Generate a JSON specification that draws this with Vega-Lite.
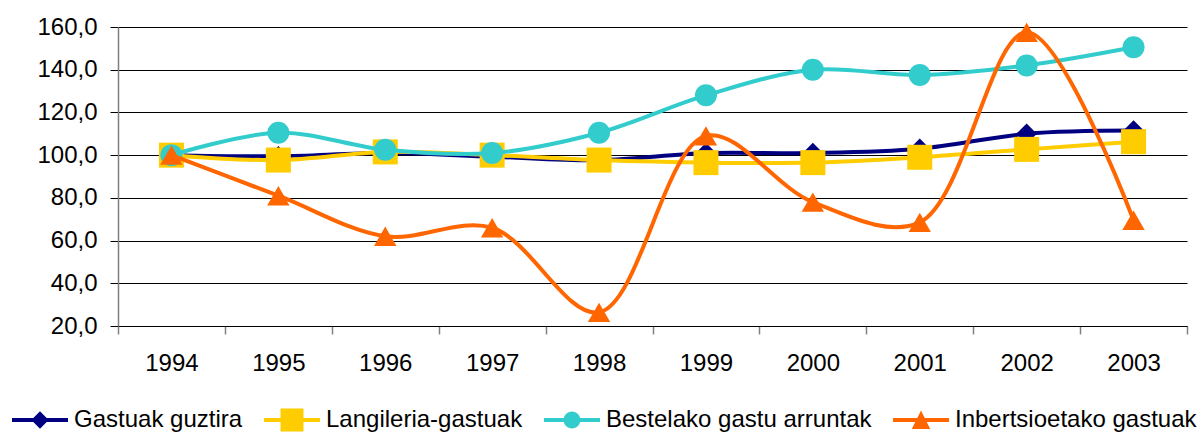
{
  "$schema": "https://vega.github.io/schema/vega-lite/v6.json",
  "width": 1069,
  "height": 299,
  "autosize": {"type": "none"},
  "padding": {"left": 118, "top": 27, "right": 10, "bottom": 106},
  "background": "white",
  "config": {
    "view": {"stroke": null},
    "font": "Liberation Sans",
    "axis": {"labelFont": "Liberation Sans", "labelFontSize": 24, "labelColor": "#000", "title": null}
  },
  "data": {
    "values": [
      {"urtea": "1994", "serie": "Gastuak guztira", "balioa": 100},
      {"urtea": "1995", "serie": "Gastuak guztira", "balioa": 99.5},
      {"urtea": "1996", "serie": "Gastuak guztira", "balioa": 101},
      {"urtea": "1997", "serie": "Gastuak guztira", "balioa": 99.3},
      {"urtea": "1998", "serie": "Gastuak guztira", "balioa": 97.6},
      {"urtea": "1999", "serie": "Gastuak guztira", "balioa": 101},
      {"urtea": "2000", "serie": "Gastuak guztira", "balioa": 101},
      {"urtea": "2001", "serie": "Gastuak guztira", "balioa": 103},
      {"urtea": "2002", "serie": "Gastuak guztira", "balioa": 110},
      {"urtea": "2003", "serie": "Gastuak guztira", "balioa": 111.5},
      {"urtea": "1994", "serie": "Langileria-gastuak", "balioa": 100},
      {"urtea": "1995", "serie": "Langileria-gastuak", "balioa": 97.7},
      {"urtea": "1996", "serie": "Langileria-gastuak", "balioa": 101.5},
      {"urtea": "1997", "serie": "Langileria-gastuak", "balioa": 100},
      {"urtea": "1998", "serie": "Langileria-gastuak", "balioa": 97.7},
      {"urtea": "1999", "serie": "Langileria-gastuak", "balioa": 96.5},
      {"urtea": "2000", "serie": "Langileria-gastuak", "balioa": 96.5},
      {"urtea": "2001", "serie": "Langileria-gastuak", "balioa": 99},
      {"urtea": "2002", "serie": "Langileria-gastuak", "balioa": 102.7},
      {"urtea": "2003", "serie": "Langileria-gastuak", "balioa": 106.3},
      {"urtea": "1994", "serie": "Bestelako gastu arruntak", "balioa": 100},
      {"urtea": "1995", "serie": "Bestelako gastu arruntak", "balioa": 110.5},
      {"urtea": "1996", "serie": "Bestelako gastu arruntak", "balioa": 102.5},
      {"urtea": "1997", "serie": "Bestelako gastu arruntak", "balioa": 101},
      {"urtea": "1998", "serie": "Bestelako gastu arruntak", "balioa": 110.5},
      {"urtea": "1999", "serie": "Bestelako gastu arruntak", "balioa": 128},
      {"urtea": "2000", "serie": "Bestelako gastu arruntak", "balioa": 140},
      {"urtea": "2001", "serie": "Bestelako gastu arruntak", "balioa": 137.5},
      {"urtea": "2002", "serie": "Bestelako gastu arruntak", "balioa": 142},
      {"urtea": "2003", "serie": "Bestelako gastu arruntak", "balioa": 150.5},
      {"urtea": "1994", "serie": "Inbertsioetako gastuak", "balioa": 100},
      {"urtea": "1995", "serie": "Inbertsioetako gastuak", "balioa": 81},
      {"urtea": "1996", "serie": "Inbertsioetako gastuak", "balioa": 62},
      {"urtea": "1997", "serie": "Inbertsioetako gastuak", "balioa": 66},
      {"urtea": "1998", "serie": "Inbertsioetako gastuak", "balioa": 26.4},
      {"urtea": "1999", "serie": "Inbertsioetako gastuak", "balioa": 109},
      {"urtea": "2000", "serie": "Inbertsioetako gastuak", "balioa": 78},
      {"urtea": "2001", "serie": "Inbertsioetako gastuak", "balioa": 68.5},
      {"urtea": "2002", "serie": "Inbertsioetako gastuak", "balioa": 157.5},
      {"urtea": "2003", "serie": "Inbertsioetako gastuak", "balioa": 69.5}
    ]
  },
  "encoding": {
    "x": {
      "field": "urtea",
      "type": "ordinal",
      "scale": {"type": "band", "paddingInner": 0, "paddingOuter": 0},
      "axis": {
        "labelAngle": 0,
        "tickBand": "extent",
        "tickSize": 8,
        "tickColor": "#808080",
        "tickWidth": 1.5,
        "domainColor": "#000",
        "domainWidth": 1,
        "labelPadding": 17,
        "grid": false
      }
    },
    "y": {
      "field": "balioa",
      "type": "quantitative",
      "scale": {"domain": [20, 160], "nice": false, "zero": false},
      "axis": {
        "values": [20, 40, 60, 80, 100, 120, 140, 160],
        "labelExpr": "replace(format(datum.value, '.1f'), '.', ',')",
        "tickSize": 8,
        "tickColor": "#000",
        "tickWidth": 1,
        "domainColor": "#808080",
        "domainWidth": 1.5,
        "labelPadding": 13,
        "grid": true,
        "gridColor": "#000",
        "gridWidth": 1,
        "gridOpacity": 1
      }
    },
    "color": {
      "field": "serie",
      "type": "nominal",
      "sort": ["Gastuak guztira", "Langileria-gastuak", "Bestelako gastu arruntak", "Inbertsioetako gastuak"],
      "scale": {
        "domain": ["Gastuak guztira", "Langileria-gastuak", "Bestelako gastu arruntak", "Inbertsioetako gastuak"],
        "range": ["#000080", "#FFCC00", "#33CCCC", "#FF6600"]
      },
      "legend": {
        "title": null,
        "orient": "none",
        "direction": "horizontal",
        "legendX": -106,
        "legendY": 365,
        "padding": 0,
        "symbolSize": 3136,
        "symbolStrokeWidth": 0,
        "symbolOpacity": 1,
        "labelOffset": 6,
        "columnPadding": 21,
        "labelFont": "Liberation Sans",
        "labelFontSize": 24,
        "labelColor": "#000",
        "labelLimit": 400,
        "encode": {
          "symbols": {
            "update": {
              "shape": {"signal": "datum.value === 'Gastuak guztira' ? 'M-1,-0.07H1V0.07H-1Z M0,-0.31L0.31,0L0,0.31L-0.31,0Z' : datum.value === 'Langileria-gastuak' ? 'M-1,-0.07H1V0.07H-1Z M-0.41,-0.41H0.41V0.41H-0.41Z' : datum.value === 'Bestelako gastu arruntak' ? 'M-1,-0.07H1V0.07H-1Z M-0.3,0A0.3,0.3 0 1,1 0.3,0A0.3,0.3 0 1,1 -0.3,0Z' : 'M-1,-0.07H1V0.07H-1Z M0,-0.34L0.33,0.32L-0.33,0.32Z'"},
              "size": {"value": 3136},
              "fill": {"scale": "color", "field": "value"},
              "fillOpacity": {"value": 1},
              "stroke": {"value": "transparent"},
              "strokeWidth": {"value": 0},
              "opacity": {"value": 1}
            }
          }
        }
      }
    }
  },
  "layer": [
    {
      "transform": [{"filter": "datum.serie === 'Gastuak guztira'"}],
      "mark": {"type": "line", "interpolate": "catmull-rom", "strokeWidth": 4}
    },
    {
      "transform": [{"filter": "datum.serie === 'Gastuak guztira'"}],
      "mark": {"type": "point", "filled": true, "opacity": 1, "shape": "diamond", "size": 420}
    },
    {
      "transform": [{"filter": "datum.serie === 'Langileria-gastuak'"}],
      "mark": {"type": "line", "interpolate": "catmull-rom", "strokeWidth": 4}
    },
    {
      "transform": [{"filter": "datum.serie === 'Langileria-gastuak'"}],
      "mark": {"type": "point", "filled": true, "opacity": 1, "shape": "square", "size": 625}
    },
    {
      "transform": [{"filter": "datum.serie === 'Bestelako gastu arruntak'"}],
      "mark": {"type": "line", "interpolate": "catmull-rom", "strokeWidth": 4}
    },
    {
      "transform": [{"filter": "datum.serie === 'Bestelako gastu arruntak'"}],
      "mark": {"type": "point", "filled": true, "opacity": 1, "shape": "circle", "size": 484}
    },
    {
      "transform": [{"filter": "datum.serie === 'Inbertsioetako gastuak'"}],
      "mark": {"type": "line", "interpolate": "catmull-rom", "strokeWidth": 4}
    },
    {
      "transform": [{"filter": "datum.serie === 'Inbertsioetako gastuak'"}],
      "mark": {"type": "point", "filled": true, "opacity": 1, "shape": "triangle-up", "size": 500}
    }
  ]
}
